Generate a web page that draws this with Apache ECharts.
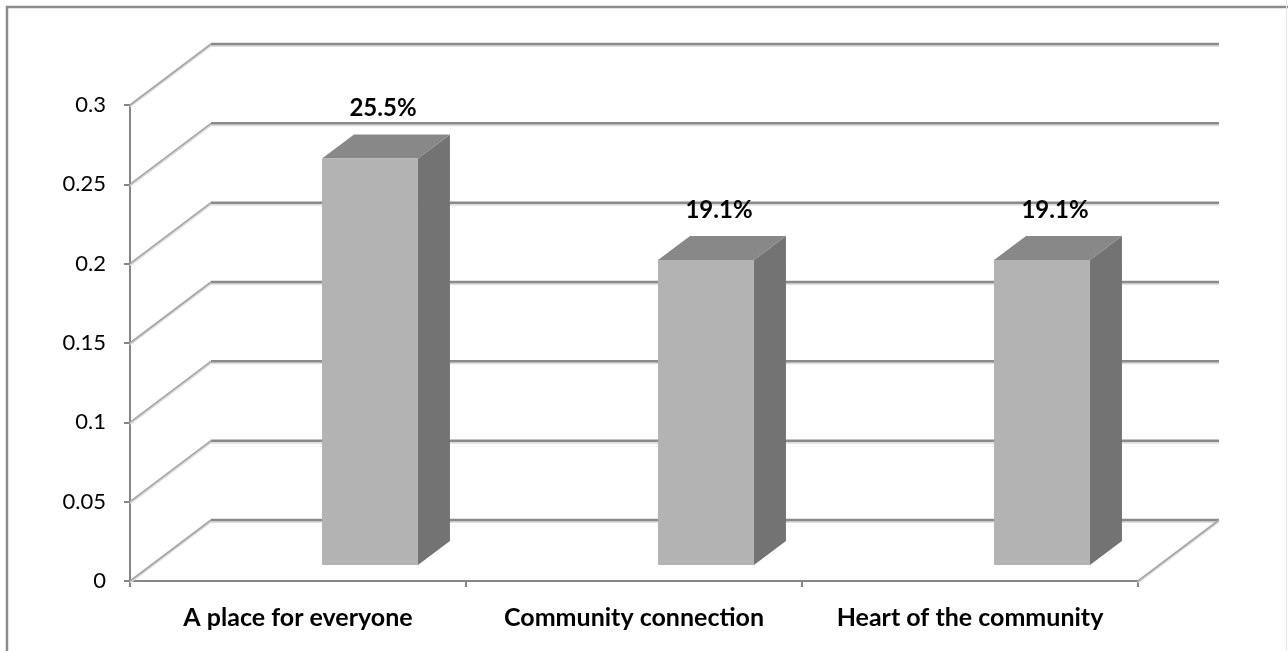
<!DOCTYPE html>
<html>
<head>
<meta charset="utf-8">
<script src="https://cdn.jsdelivr.net/npm/echarts@6/dist/echarts.min.js"></script>
<style>
html,body{margin:0;padding:0;background:#fff;}
#chart{width:1288px;height:651px;}
</style>
</head>
<body>
<div id="chart"></div>
<script>
// ---- data ----
var categories = ['A place for everyone', 'Community connection', 'Heart of the community'];
var values = [0.255, 0.191, 0.191];
var yTicks = [0, 0.05, 0.1, 0.15, 0.2, 0.25, 0.3];

// ---- style constants (pixel offsets for the 3D look) ----
var DX = 81, DY = -61;          // back wall offset
var BDX = 32, BDY = -24;        // bar depth offset
var LIFT = 18;                  // bar floor lift
var FONT = 'Lato, "Open Sans", sans-serif';

var chart = echarts.init(document.getElementById('chart'));

function wallItem(params, api) {
  var v = api.value(0);
  var p = api.coord([0, v]);
  var bw = api.size([1, 0])[0];
  var x0 = p[0] - bw / 2;
  var xEnd = api.coord([categories.length - 1, v])[0] + bw / 2;
  var y = p[1];
  var children = [];
  children.push({type: 'line', shape: {x1: x0, y1: y + 1.5, x2: x0 + DX, y2: y + DY + 1.5},
    style: {stroke: '#d9d9d9', lineWidth: 2}});
  children.push({type: 'line', shape: {x1: x0, y1: y, x2: x0 + DX, y2: y + DY},
    style: {stroke: '#a6a6a6', lineWidth: 1.6}});
  children.push({type: 'line', shape: {x1: x0 + DX, y1: y + DY + 2, x2: xEnd + DX, y2: y + DY + 2},
    style: {stroke: '#dedede', lineWidth: 2}});
  children.push({type: 'line', shape: {x1: x0 + DX, y1: y + DY, x2: xEnd + DX, y2: y + DY},
    style: {stroke: '#8a8a8a', lineWidth: 2.5}});
  if (v === 0) {
    children.push({type: 'line', shape: {x1: xEnd, y1: y + 1.5, x2: xEnd + DX, y2: y + DY + 1.5},
      style: {stroke: '#d9d9d9', lineWidth: 2}});
    children.push({type: 'line', shape: {x1: xEnd, y1: y, x2: xEnd + DX, y2: y + DY},
      style: {stroke: '#a6a6a6', lineWidth: 1.6}});
  }
  return {type: 'group', children: children};
}

function barItem(params, api) {
  var idx = api.value(0);
  var v = api.value(1);
  var base = api.coord([idx, 0]);
  var top = api.coord([idx, v]);
  var bw = api.size([1, 0])[0];
  var cx = base[0];
  var xl = cx + bw * 0.0715;
  var xr = cx + bw * 0.357;
  var yb = base[1] - 16;
  var yt = top[1] - LIFT;
  var children = [
    {type: 'polygon', shape: {points: [[xr, yt], [xr + BDX, yt + BDY], [xr + BDX, yb + BDY], [xr, yb]]},
      style: {fill: '#737373'}},
    {type: 'polygon', shape: {points: [[xl, yt], [xl + BDX, yt + BDY], [xr + BDX, yt + BDY], [xr, yt]]},
      style: {fill: '#888888'}},
    {type: 'rect', shape: {x: xl, y: yt, width: xr - xl, height: yb - yt},
      style: {fill: '#b3b3b3'}},
    {type: 'text', style: {
      text: (v * 100).toFixed(1) + '%',
      x: (xl + xr) / 2 + BDX / 2 - 3, y: yt + BDY - 26,
      align: 'center', verticalAlign: 'middle',
      font: 'bold 24px ' + FONT, fill: '#000'}}
  ];
  return {type: 'group', children: children};
}

var option = {
  animation: false,
  backgroundColor: '#fff',
  graphic: [
    {type: 'polyline', shape: {points: [[7, 660], [7, 7], [1300, 7]]},
      style: {stroke: '#8c8c8c', lineWidth: 2.5, fill: null}, z: 100},
    {type: 'line', shape: {x1: 1286.5, y1: 0, x2: 1286.5, y2: 660},
      style: {stroke: '#e6e6e6', lineWidth: 1}, z: 100}
  ],
  grid: {left: 130, right: 150, top: 105, bottom: 70},
  xAxis: {
    type: 'category', data: categories, boundaryGap: true,
    axisLine: {lineStyle: {color: '#868686', width: 2}},
    axisTick: {show: true, interval: 0, length: 6, lineStyle: {color: '#868686', width: 2}},
    axisLabel: {interval: 0, hideOverlap: false, color: '#000', fontFamily: FONT,
      fontWeight: 'bold', fontSize: 25, margin: 24},
    splitLine: {show: false}
  },
  yAxis: {
    type: 'value', min: 0, max: 0.3, interval: 0.05,
    axisLine: {show: true, lineStyle: {color: '#868686', width: 2}},
    axisTick: {show: true, length: 6, lineStyle: {color: '#868686', width: 2}},
    axisLabel: {color: '#000', fontFamily: FONT, fontSize: 22, margin: 24,
      formatter: function (v) { return String(+v.toFixed(2)); }},
    splitLine: {show: false}
  },
  series: [
    {type: 'custom', renderItem: wallItem, data: yTicks.map(function (t) { return [t]; }),
      encode: {y: 0}, z: 1, silent: true},
    {type: 'custom', renderItem: barItem,
      data: values.map(function (v, i) { return [i, v]; }),
      encode: {x: 0, y: 1}, z: 3, silent: true}
  ]
};
chart.setOption(option);
</script>
</body>
</html>
